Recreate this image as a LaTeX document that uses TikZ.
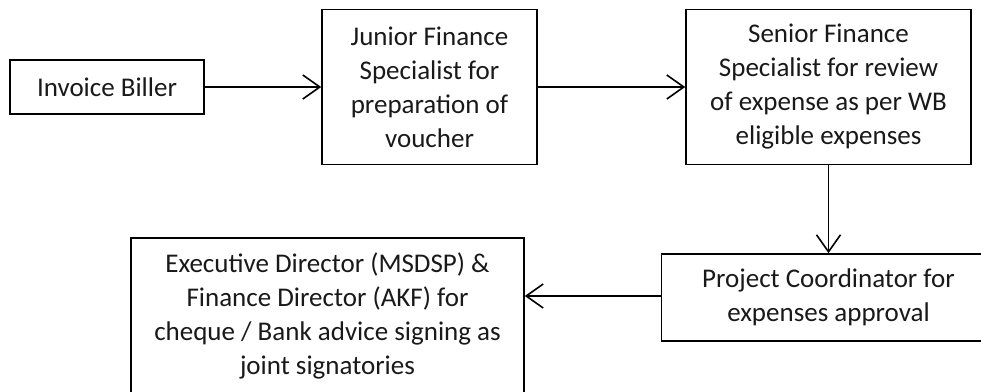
\documentclass[tikz,border=0pt]{standalone}
\usepackage{fontspec}
\setmainfont{Carlito}
\usetikzlibrary{arrows.meta}
\begin{document}
\begin{tikzpicture}[x=1pt,y=-1pt,
  box/.style={draw, line width=1.6pt, align=center, inner sep=0pt,
    font=\fontsize{27}{34}\selectfont, text=black!90},
  flow/.style={line width=1.6pt, -{Straight Barb[length=17pt,width=24pt,line width=1.6pt]}}]
  \useasboundingbox (0,0) rectangle (981,391);
  % process steps
  \node[box, minimum width=194pt, minimum height=54pt] (biller) at (107,87) {Invoice Biller};
  \node[box, minimum width=215pt, minimum height=155pt] (junior) at (429.5,87)
    {Junior Finance\\Specialist for\\preparation of\\voucher};
  \node[box, minimum width=285pt, minimum height=155pt] (senior) at (828.5,87)
    {Senior Finance\\Specialist for review\\of expense as per WB\\eligible expenses};
  \node[box, minimum width=334pt, minimum height=87pt] (project) at (828.5,297.5)
    {Project Coordinator for\\expenses approval};
  \node[box, minimum width=393pt, minimum height=156pt] (exec) at (327.5,316)
    {Executive Director (MSDSP) \&\\Finance Director (AKF) for\\cheque / Bank advice signing as\\joint signatories};
  % connectors
  \draw[flow] (biller.east) -- (junior.west);
  \draw[flow] (junior.east) -- (senior.west);
  \draw[flow] (senior.south) -- (project.north);
  \draw[flow] ([yshift=1.5pt]project.west) -- ([yshift=1.5pt]project.west -| exec.east);
\end{tikzpicture}
\end{document}
